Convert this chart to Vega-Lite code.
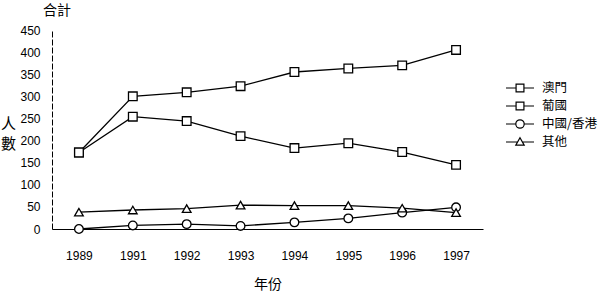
{
  "$schema": "https://vega.github.io/schema/vega-lite/v6.json",
  "width": 431,
  "height": 199,
  "autosize": {"type": "none"},
  "padding": {"left": 52, "top": 30, "right": 130, "bottom": 65},
  "background": "white",
  "title": {"text": "合計", "anchor": "start", "frame": "group", "dx": -9, "offset": 6, "font": "Noto Sans CJK TC", "fontSize": 14, "fontWeight": "normal", "color": "black"},
  "config": {"view": {"stroke": null}},
  "data": {"values": [
    {"year": "1989", "series": "澳門", "value": 173},
    {"year": "1991", "series": "澳門", "value": 300},
    {"year": "1992", "series": "澳門", "value": 309},
    {"year": "1993", "series": "澳門", "value": 323},
    {"year": "1994", "series": "澳門", "value": 355},
    {"year": "1995", "series": "澳門", "value": 363},
    {"year": "1996", "series": "澳門", "value": 370},
    {"year": "1997", "series": "澳門", "value": 405},
    {"year": "1989", "series": "葡國", "value": 173},
    {"year": "1991", "series": "葡國", "value": 254},
    {"year": "1992", "series": "葡國", "value": 244},
    {"year": "1993", "series": "葡國", "value": 210},
    {"year": "1994", "series": "葡國", "value": 183},
    {"year": "1995", "series": "葡國", "value": 194},
    {"year": "1996", "series": "葡國", "value": 174},
    {"year": "1997", "series": "葡國", "value": 145},
    {"year": "1989", "series": "中國/香港", "value": 0},
    {"year": "1991", "series": "中國/香港", "value": 8},
    {"year": "1992", "series": "中國/香港", "value": 11},
    {"year": "1993", "series": "中國/香港", "value": 7},
    {"year": "1994", "series": "中國/香港", "value": 15},
    {"year": "1995", "series": "中國/香港", "value": 24},
    {"year": "1996", "series": "中國/香港", "value": 37},
    {"year": "1997", "series": "中國/香港", "value": 49},
    {"year": "1989", "series": "其他", "value": 38},
    {"year": "1991", "series": "其他", "value": 43},
    {"year": "1992", "series": "其他", "value": 46},
    {"year": "1993", "series": "其他", "value": 54},
    {"year": "1994", "series": "其他", "value": 53},
    {"year": "1995", "series": "其他", "value": 53},
    {"year": "1996", "series": "其他", "value": 47},
    {"year": "1997", "series": "其他", "value": 37}
  ]},
  "encoding": {
    "x": {
      "field": "year", "type": "ordinal",
      "scale": {"type": "point", "padding": 0.5},
      "axis": {"title": "年份", "labelAngle": 0, "ticks": false, "grid": false, "domainColor": "black", "domainWidth": 1.2, "labelPadding": 21, "labelFont": "Liberation Sans", "labelFontSize": 12, "labelColor": "black", "titleFont": "Noto Sans CJK TC", "titleFontSize": 14, "titleFontWeight": "normal", "titleColor": "black", "titlePadding": 16}
    },
    "y": {
      "field": "value", "type": "quantitative",
      "scale": {"domain": [0, 450]},
      "axis": {"values": [0, 50, 100, 150, 200, 250, 300, 350, 400, 450], "ticks": false, "grid": false, "domainColor": "black", "domainDash": [6, 2], "domainWidth": 1, "labelPadding": 12, "labelFont": "Liberation Sans", "labelFontSize": 12, "labelColor": "black", "title": ["人", "數"], "titleAngle": 0, "titleX": -44, "titleY": 86, "titleFont": "Noto Sans CJK TC", "titleFontSize": 15, "titleLineHeight": 20, "titleFontWeight": "normal", "titleColor": "black", "titleAlign": "center", "titleBaseline": "top"}
    }
  },
  "layer": [
    {
      "mark": {"type": "line", "color": "black", "strokeWidth": 1.3},
      "encoding": {"detail": {"field": "series", "type": "nominal"}}
    },
    {
      "mark": {"type": "point", "filled": true, "fill": "white", "stroke": "black", "strokeWidth": 1.3, "opacity": 1, "size": 75},
      "encoding": {
        "shape": {"field": "series", "type": "nominal", "scale": {"domain": ["澳門", "葡國", "中國/香港", "其他"], "range": ["square", "square", "circle", "triangle-up"]}, "legend": null}
      }
    },
    {
      "transform": [{"filter": "datum.value < 0"}],
      "mark": {"type": "point", "filled": false, "color": "black", "strokeWidth": 1.2, "opacity": 1, "size": 196},
      "encoding": {
        "shape": {"field": "series", "type": "nominal",
          "scale": {"domain": ["澳門", "葡國", "中國/香港", "其他"], "range": [
            "M-2,0H-0.56M0.56,0H2M-0.56,-0.56H0.56V0.56H-0.56Z",
            "M-2,0H-0.56M0.56,0H2M-0.56,-0.56H0.56V0.56H-0.56Z",
            "M-2,0H-0.6M0.6,0H2M-0.6,0A0.6,0.6,0,1,1,0.6,0A0.6,0.6,0,1,1,-0.6,0Z",
            "M-2,0H-0.35M0.35,0H2M0,-0.6L0.6,0.45L-0.6,0.45Z"
          ]},
          "legend": {"orient": "none", "legendX": 460, "legendY": 50, "title": null, "padding": 0, "symbolSize": 196, "symbolFillColor": "white", "symbolStrokeColor": "black", "symbolStrokeWidth": 1.2, "symbolOpacity": 1, "labelFont": "Noto Sans CJK TC", "labelFontSize": 12.5, "labelColor": "black", "labelOffset": 14, "rowPadding": 3}
        }
      }
    }
  ],
  "resolve": {"scale": {"shape": "independent"}, "legend": {"shape": "independent"}}
}
